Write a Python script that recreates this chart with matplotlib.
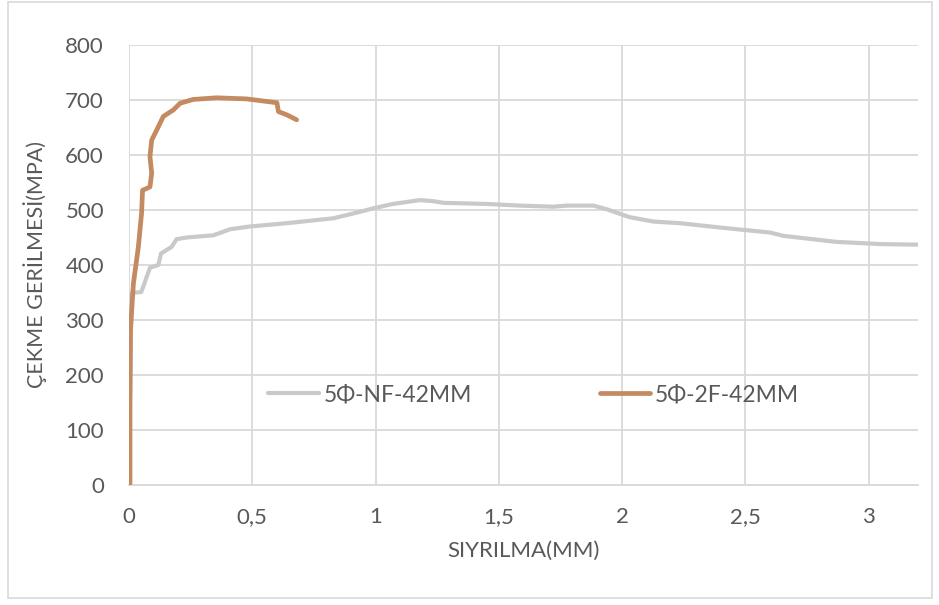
import matplotlib
matplotlib.use("Agg")
import matplotlib.pyplot as plt
from matplotlib.patches import Rectangle

plt.rcParams['font.family'] = ['Lato', 'DejaVu Sans']

# Slip (mm) vs. tensile stress (MPa)
nf_slip = [0.0, 0.004, 0.008, 0.011, 0.05, 0.085, 0.119, 0.13, 0.173, 0.193, 0.234,
           0.342, 0.41, 0.49, 0.64, 0.83, 0.94, 0.99, 1.07, 1.18, 1.235, 1.275,
           1.45, 1.585, 1.72, 1.776, 1.884, 1.94, 2.03, 2.127, 2.235, 2.4, 2.6,
           2.654, 2.83, 2.87, 3.05, 3.2]
nf_stress = [0, 150, 280, 349, 351, 395, 400, 421, 433, 447, 450,
             454, 465, 470, 476, 485, 497, 503, 511, 518, 516, 513,
             511, 508, 506, 508, 508, 501, 487, 479, 476, 468, 459,
             453, 444, 442, 438, 437]

f2_slip = [0.004, 0.004, 0.006, 0.018, 0.038, 0.051, 0.055, 0.071, 0.085, 0.092,
           0.085, 0.092, 0.112, 0.139, 0.18, 0.207, 0.26, 0.355, 0.477, 0.6,
           0.606, 0.64, 0.68]
f2_stress = [3, 150, 282, 367, 433, 494, 536, 539, 542, 567,
             597, 627, 645, 670, 682, 694, 701, 704, 702, 695,
             679, 673, 664]

series_labels = ['5Φ-NF-42MM', '5Φ-2F-42MM']
x_ticks = [0, 0.5, 1, 1.5, 2, 2.5, 3]
x_tick_labels = ['0', '0,5', '1', '1,5', '2', '2,5', '3']
y_ticks = [0, 100, 200, 300, 400, 500, 600, 700, 800]

text_color = '#595959'
grid_color = '#D9D9D9'

fig = plt.figure(figsize=(9.39, 6.05), dpi=100)
ax = fig.add_axes([129 / 939, 1 - 485 / 605, (918 - 129) / 939, (485 - 45) / 605])

ax.plot(nf_slip, nf_stress, color='#C9C9C9', lw=3.0, label=series_labels[0],
        solid_capstyle='round', zorder=3)
ax.plot(f2_slip, f2_stress, color='#C48A62', lw=3.4, label=series_labels[1],
        solid_capstyle='round', zorder=4)

ax.set_xlim(0, 3.2)
ax.set_ylim(0, 800)
ax.set_xticks(x_ticks)
ax.set_xticklabels(x_tick_labels)
ax.set_yticks(y_ticks)
ax.grid(True, color=grid_color, lw=1.3)
ax.set_axisbelow(True)
for s in ['top', 'right', 'left']:
    ax.spines[s].set_visible(False)
ax.spines['bottom'].set_color(grid_color)
ax.spines['bottom'].set_linewidth(1.3)
ax.tick_params(length=0, labelsize=16, colors=text_color)
ax.tick_params(axis='x', pad=16)
ax.tick_params(axis='y', pad=18)

ax.set_xlabel('SIYRILMA(MM)', fontsize=16, color=text_color, labelpad=10)
ax.set_ylabel('ÇEKME GERİLMESİ(MPA)', fontsize=15.5, color=text_color, labelpad=13)

ax.legend(loc='center', bbox_to_anchor=(0.513, 0.2045), ncol=2, frameon=False,
          fontsize=16.5, labelcolor=text_color, handlelength=2.2, handletextpad=0.2,
          columnspacing=5.6)

fig.patches.append(Rectangle((8 / 939, 7 / 605), 924 / 939, 596 / 605,
                             transform=fig.transFigure, fill=False,
                             edgecolor=grid_color, lw=1.2))

fig.savefig('out.png', dpi=100)
